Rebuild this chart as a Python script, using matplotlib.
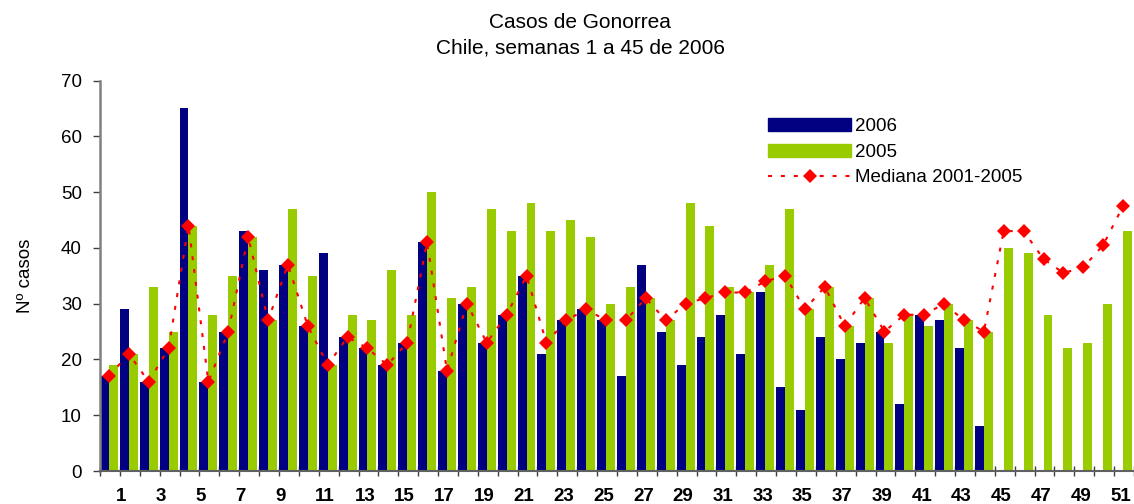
import numpy as np
import matplotlib
matplotlib.use("Agg")
import matplotlib.pyplot as plt
from matplotlib.lines import Line2D
from matplotlib.patches import Patch

plt.rcParams["font.family"] = ["Liberation Sans", "DejaVu Sans"]

# Weekly gonorrhea cases
semanas = np.arange(1, 53)
casos_2006 = [17, 29, 16, 22, 65, 16, 25, 43, 36, 37, 26, 39, 24,
              22, 19, 23, 41, 18, 30, 23, 28, 35, 21, 27, 29, 27,
              17, 37, 25, 19, 24, 28, 21, 32, 15, 11, 24, 20, 23,
              25, 12, 28, 27, 22, 8]
casos_2005 = [19, 21, 33, 25, 44, 28, 35, 42, 27, 47, 35, 19, 28,
              27, 36, 28, 50, 31, 33, 47, 43, 48, 43, 45, 42, 30,
              33, 31, 27, 48, 44, 33, 32, 37, 47, 29, 33, 26, 31,
              23, 28, 26, 30, 27, 25, 40, 39, 28, 22, 23, 30, 43]
mediana = [17, 21, 16, 22, 44, 16, 25, 42, 27, 37, 26, 19, 24,
           22, 19, 23, 41, 18, 30, 23, 28, 35, 23, 27, 29, 27,
           27, 31, 27, 30, 31, 32, 32, 34, 35, 29, 33, 26, 31,
           25, 28, 28, 30, 27, 25, 43, 43, 38, 35.5, 36.5, 40.5, 47.5]
etiquetas_x = [str(s) for s in range(1, 53, 2)]

navy = "#000080"
verde = "#99CC00"
rojo = "#FF0000"

fig = plt.figure(figsize=(11.34, 5.04), dpi=100)
ax = fig.add_axes([100 / 1134, 33 / 504, 1034 / 1134, 390.5 / 504])

# Bars (2006 only has weeks 1-45)
ax.bar(semanas[:len(casos_2006)] - 0.5, casos_2006, width=0.45, align="edge",
       color=navy, label="2006", zorder=2)
ax.bar(semanas - 0.05, casos_2005, width=0.45, align="edge",
       color=verde, label="2005", zorder=2)

# Median line
estilo = (0, (1.9, 4.3))
ax.plot(semanas - 0.05, mediana, color=rojo, linestyle=estilo, linewidth=1.5,
        marker="D", markersize=7.5, markeredgewidth=0, zorder=3)

ax.set_xlim(0.5, 52.15)
ax.set_ylim(0, 70)
ax.set_yticks(range(0, 71, 10))
ax.tick_params(axis="y", direction="out", length=5, width=1, color="#404040",
               labelsize=13.5, pad=8)

# category boundaries as minor ticks, labels shifted like the original
ax.set_xticks(np.arange(0.5, 52.6, 1), minor=True)
ax.set_xticks(np.arange(1, 53, 2) + 0.3)
ax.set_xticklabels(etiquetas_x, ha="left", fontsize=13.5, fontweight="bold")
ax.tick_params(axis="x", which="major", length=0, pad=12)
ax.tick_params(axis="x", which="minor", direction="inout", length=7,
               width=1, color="#404040")

for lado in ["top", "right"]:
    ax.spines[lado].set_visible(False)
ax.spines["left"].set_color("#808080")
ax.spines["left"].set_linewidth(1.8)
ax.spines["bottom"].set_color("#606060")
ax.spines["bottom"].set_linewidth(1.5)

ax.set_ylabel("Nº casos", fontsize=13.5)
ax.yaxis.set_label_coords(-66 / 1034, 0.5)

fig.text(580 / 1134, 1 - 13 / 504, "Casos de Gonorrea\nChile, semanas 1 a 45 de 2006",
         ha="center", va="top", fontsize=15, linespacing=1.4)

# Legend
handles = [Patch(color=navy), Patch(color=verde),
           Line2D([], [], color=rojo, linestyle=estilo, linewidth=1.5,
                  marker="D", markersize=7.5, markeredgewidth=0)]
fig.legend(handles, ["2006", "2005", "Mediana 2001-2005"],
           loc="upper left", bbox_to_anchor=(759 / 1134, 1 - 109 / 504),
           frameon=False, fontsize=13.5, handlelength=4.43, handleheight=0.69,
           handletextpad=0.2, labelspacing=0.45, borderpad=0)

fig.savefig("out.png", dpi=100)
